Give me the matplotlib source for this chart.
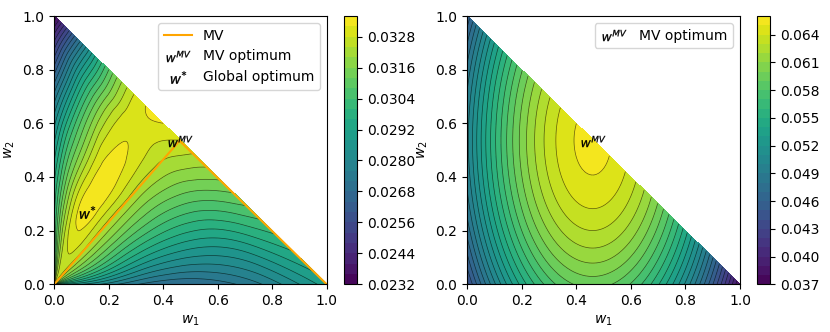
import numpy as np
import matplotlib
matplotlib.use('Agg')
import matplotlib.pyplot as plt
import matplotlib.tri as mtri

# left panel: objective on a grid of
# s = w1 + w2 (share in the two risky assets) and t = w2 / s
s_knots = [0.0, 0.2, 0.4, 0.6, 0.8, 0.9, 1.0]
t_knots = [0.0, 0.2, 0.4, 0.5, 0.6, 0.7, 0.8, 0.9, 1.0]
ce_values = [
    [0.0290, 0.0302, 0.0314, 0.0319, 0.0323, 0.0324, 0.0320, 0.0312, 0.0300],    # s = 0
    [0.0278, 0.0297, 0.0314, 0.0321, 0.0327, 0.0329, 0.0326, 0.0316, 0.0300],    # s = 0.2
    [0.0269, 0.0289, 0.0310, 0.0320, 0.0329, 0.03345, 0.0328, 0.0313, 0.0295],   # s = 0.4
    [0.0270, 0.0287, 0.0308, 0.0319, 0.0330, 0.03335, 0.0322, 0.0305, 0.0283],   # s = 0.6
    [0.0278, 0.0291, 0.0310, 0.0320, 0.0329, 0.0331, 0.0317, 0.0293, 0.0262],    # s = 0.8
    [0.0284, 0.0296, 0.0313, 0.0322, 0.0329, 0.03295, 0.0312, 0.0285, 0.0249],   # s = 0.9
    [0.0290, 0.0301, 0.0317, 0.0325, 0.03320, 0.0329, 0.0308, 0.0274, 0.0233],   # s = 1
]

# right panel: mean-variance utility
rf = 0.0437
mu_ex = [0.0681, 0.0223]
sigma = [[0.0370, 0.0], [0.0, 0.0104]]
gamma = 4.0

# optima and the MV path
w_mv = [0.46, 0.535]
w_star = [0.12, 0.27]
mv_w1 = [0.0, 0.46, 1.0]
mv_w2 = [0.0, 0.535, 0.0]

levels_left = np.arange(0.0232, 0.03361, 0.0004)
levels_right = np.arange(0.037, 0.06601, 0.001)

# mesh over the simplex
ss, tt = np.meshgrid(np.linspace(0, 1, 301), np.linspace(0, 1, 301), indexing='ij')
w1 = ss * (1 - tt)
w2 = ss * tt

S, T = np.meshgrid(s_knots, t_knots, indexing='ij')
tri = mtri.Triangulation(T.ravel(), S.ravel())
interp = mtri.CubicTriInterpolator(tri, np.array(ce_values).ravel(), kind='min_E')
eps = 1e-9
z_left = interp(np.clip(tt, eps, 1 - eps), np.clip(ss, eps, 1 - eps))

sig = np.array(sigma)
z_right = (rf + mu_ex[0] * w1 + mu_ex[1] * w2
           - 0.5 * gamma * (sig[0, 0] * w1**2 + 2 * sig[0, 1] * w1 * w2 + sig[1, 1] * w2**2))

fig = plt.figure(figsize=(8.3, 3.32), dpi=100)
ax1 = fig.add_axes([0.0654, 0.1437, 0.3282, 0.8081])
cax1 = fig.add_axes([0.4148, 0.1437, 0.0157, 0.8081])
ax2 = fig.add_axes([0.5627, 0.1437, 0.3289, 0.8081])
cax2 = fig.add_axes([0.9117, 0.1437, 0.0160, 0.8081])

# left
cf = ax1.contourf(w1, w2, z_left, levels=levels_left, cmap='viridis')
ax1.contour(w1, w2, z_left, levels=levels_left, colors='k', linewidths=0.5, alpha=0.6)
ax1.plot(mv_w1, mv_w2, color='orange', lw=1.5, label='MV')
ax1.plot(w_mv[0], w_mv[1], marker='$w^{MV}$', color='k', ms=17, mew=0.2, ls='none', label='MV optimum')
ax1.plot(w_star[0], w_star[1], marker='$w^{*}$', color='k', ms=11, mew=0.2, ls='none', label='Global optimum')
ax1.set_xlim(0, 1)
ax1.set_ylim(0, 1)
ax1.set_xlabel('$w_1$')
ax1.set_ylabel('$w_2$')
ax1.legend(loc='upper right')
cb1 = fig.colorbar(cf, cax=cax1, ticks=levels_left[::3], format='%.4f')

# right
cf2 = ax2.contourf(w1, w2, z_right, levels=levels_right, cmap='viridis')
ax2.contour(w1, w2, z_right, levels=levels_right, colors='k', linewidths=0.5, alpha=0.6)
ax2.plot(w_mv[0], w_mv[1], marker='$w^{MV}$', color='k', ms=17, mew=0.2, ls='none', label='MV optimum')
ax2.set_xlim(0, 1)
ax2.set_ylim(0, 1)
ax2.set_xlabel('$w_1$')
ax2.set_ylabel('$w_2$')
ax2.legend(loc='upper right')
cb2 = fig.colorbar(cf2, cax=cax2, ticks=levels_right[::3], format='%.3f')

fig.savefig('out.png', dpi=100)
